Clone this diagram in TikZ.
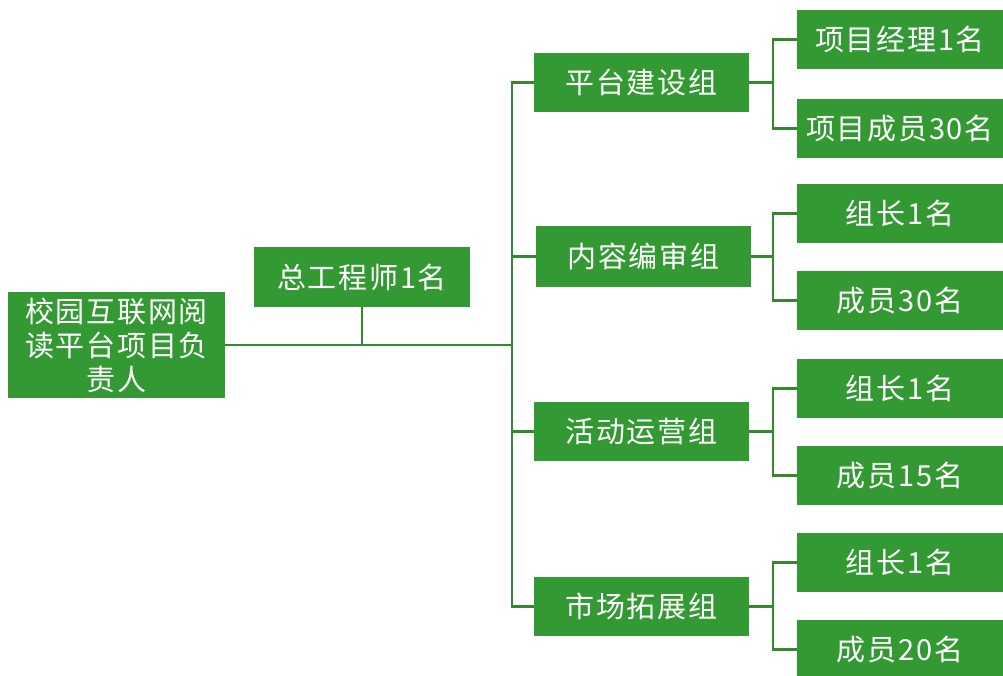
\documentclass[tikz,border=0pt]{standalone}
\usepackage{fontspec}
\setmainfont[LetterSpace=6]{Noto Sans CJK SC}
\definecolor{boxgreen}{RGB}{51,153,51}
\definecolor{linegreen}{RGB}{50,138,44}
\begin{document}
\begin{tikzpicture}[x=1pt,y=-1pt,
  box/.style={fill=boxgreen, text=white, inner sep=0pt, align=center,
    font=\fontsize{29}{34}\selectfont},
  grp/.style={box, minimum width=215pt, minimum height=59pt},
  leaf/.style={box, minimum width=206pt, minimum height=59pt},
  conn/.style={draw=linegreen, line width=2.6pt}]
\useasboundingbox (0,0) rectangle (1003,675);
% nodes
\node[box, minimum width=217pt, minimum height=106pt] (root) at (116.5,345) {校园互联网阅\\读平台项目负\\责人};
\node[box, minimum width=216pt, minimum height=60pt] (chief) at (362,277) {总工程师1名};
\node[grp] (g1) at (641.5,82.5) {平台建设组};
\node[grp, minimum height=61pt] (g2) at (643.5,256.5) {内容编审组};
\node[grp] (g3) at (641.5,431.5) {活动运营组};
\node[grp] (g4) at (641.5,606.5) {市场拓展组};
\node[leaf] (l1) at (900,39.5) {项目经理1名};
\node[leaf] (l2) at (900,128.5) {项目成员30名};
\node[leaf] (l3) at (900,213.5) {组长1名};
\node[leaf] (l4) at (900,300.5) {成员30名};
\node[leaf] (l5) at (900,388.5) {组长1名};
\node[leaf] (l6) at (900,475.5) {成员15名};
\node[leaf] (l7) at (900,562.5) {组长1名};
\node[leaf] (l8) at (900,649.5) {成员20名};
% trunk
\coordinate (tJ) at (512,345);
\draw[conn] (root.east) -- (tJ);
\draw[conn] (chief.south) -- (chief.south |- tJ);
\draw[conn] (g1.west) -- (g1.west -| tJ) -- (g4.west -| tJ) -- (g4.west);
\draw[conn] (g2.west) -- (g2.west -| tJ);
\draw[conn] (g3.west) -- (g3.west -| tJ);
% brackets
\draw[conn] (g1.east) -- ++(24,0);
\draw[conn] (l1.west) -- ++(-24,0) |- (l2.west);
\draw[conn] (g2.east) -- ++(22,0);
\draw[conn] (l3.west) -- ++(-24,0) |- (l4.west);
\draw[conn] (g3.east) -- ++(24,0);
\draw[conn] (l5.west) -- ++(-24,0) |- (l6.west);
\draw[conn] (g4.east) -- ++(24,0);
\draw[conn] (l7.west) -- ++(-24,0) |- (l8.west);
\end{tikzpicture}
\end{document}
